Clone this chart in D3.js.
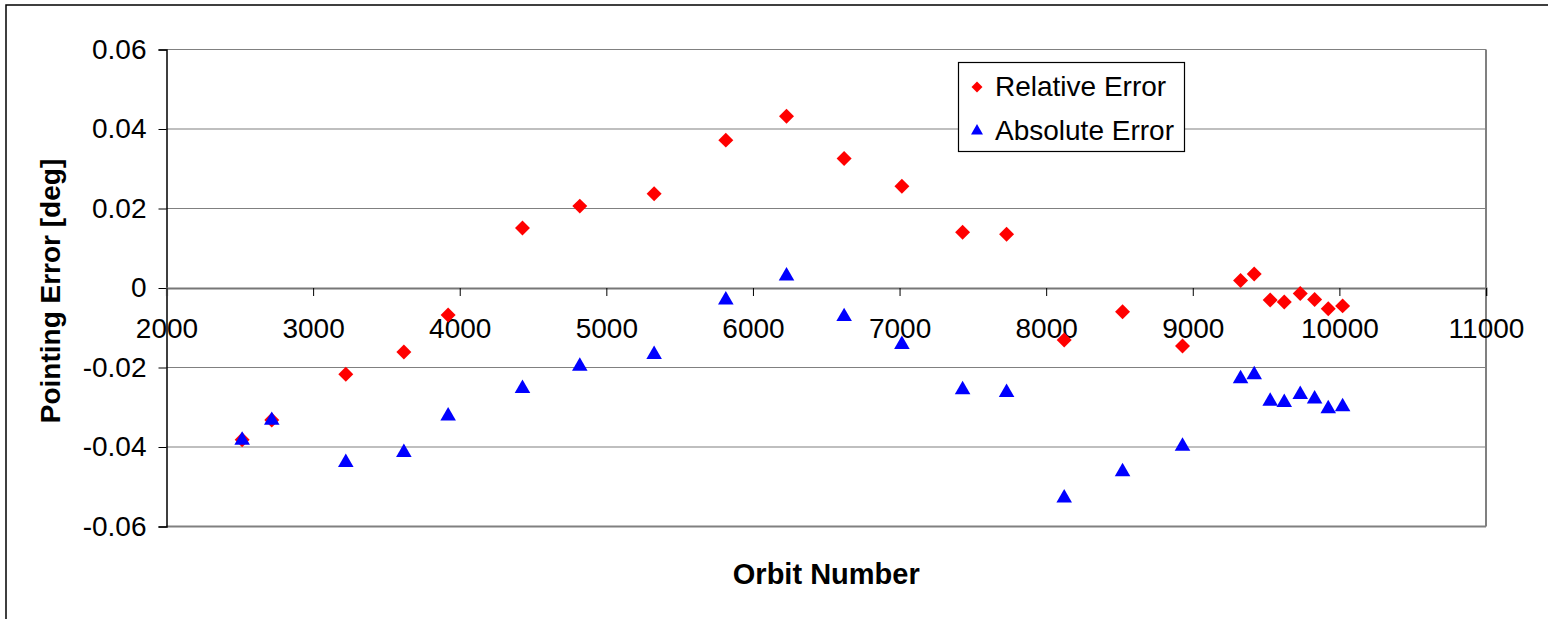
<!DOCTYPE html>
<html>
<head>
<meta charset="utf-8">
<script src="https://cdn.jsdelivr.net/npm/d3@7/dist/d3.min.js"></script>
<style>
  html, body { margin: 0; padding: 0; background: #fff; }
  svg { display: block; font-family: "Liberation Sans", Arial, sans-serif; }
</style>
</head>
<body>
<svg id="chart" width="1548" height="619"></svg>
<script>
const orbits = [2516, 2718, 3223, 3619, 3921, 4428, 4819, 5326, 5815, 6229, 6622, 7016, 7430, 7730, 8123, 8521, 8930, 9326, 9419, 9528, 9624, 9733, 9831, 9924, 10022];
const relativeError = [-0.0382, -0.0332, -0.0217, -0.0161, -0.0068, 0.0151, 0.0206, 0.0237, 0.0372, 0.0432, 0.0326, 0.0256, 0.0140, 0.0135, -0.0131, -0.0060, -0.0146, 0.0019, 0.0035, -0.0030, -0.0035, -0.0014, -0.0029, -0.0052, -0.0045];
const absoluteError = [-0.0383, -0.0333, -0.0439, -0.0414, -0.0322, -0.0253, -0.0197, -0.0167, -0.0030, 0.0030, -0.0072, -0.0142, -0.0256, -0.0263, -0.0528, -0.0462, -0.0398, -0.0228, -0.0218, -0.0285, -0.0288, -0.0268, -0.0279, -0.0304, -0.0299];
const xTicks = [2000, 3000, 4000, 5000, 6000, 7000, 8000, 9000, 10000, 11000];
const yTicks = [-0.06, -0.04, -0.02, 0, 0.02, 0.04, 0.06];
const seriesNames = ["Relative Error", "Absolute Error"];
const xTitle = "Orbit Number";
const yTitle = "Pointing Error [deg]";

const svg = d3.select("#chart");
const L = 166.5, R = 1486, T = 49.5, B = 526.5;

const x = d3.scaleLinear().domain([2000, 11000]).range([L, R]);
const y = d3.scaleLinear().domain([-0.06, 0.06]).range([B, T]);

// outer chart border
svg.append("rect").attr("x", 6).attr("y", 5).attr("width", 1600).attr("height", 700)
  .attr("fill", "none").attr("stroke", "#000").attr("stroke-width", 1.5);

// gridlines
svg.append("g").selectAll("line").data(yTicks.filter(d => d !== 0 && d !== -0.06)).join("line")
  .attr("x1", L).attr("x2", R).attr("y1", d => y(d)).attr("y2", d => y(d))
  .attr("stroke", "#808080").attr("stroke-width", 1.2);

// plot border right & bottom
svg.append("line").attr("x1", R).attr("x2", R).attr("y1", T).attr("y2", B)
  .attr("stroke", "#808080").attr("stroke-width", 2);
svg.append("line").attr("x1", L).attr("x2", R).attr("y1", B).attr("y2", B)
  .attr("stroke", "#808080").attr("stroke-width", 2);

// y axis
const yAxis = d3.axisLeft(y).tickValues(yTicks).tickSize(8).tickPadding(12)
  .tickFormat(d => d === 0 ? "0" : d3.format(".2f")(d).replace("\u2212", "-"));
const gy = svg.append("g").attr("transform", `translate(${L},0)`).call(yAxis);
gy.select(".domain").attr("stroke", "#000").attr("stroke-width", 1.5);
gy.selectAll(".tick line").attr("stroke", "#000").attr("stroke-width", 1);
gy.selectAll(".tick text").attr("font-size", 28).attr("fill", "#000")
  .attr("font-family", "Liberation Sans, Arial, sans-serif");

// x axis at zero
const xAxis = d3.axisBottom(x).tickValues(xTicks).tickSize(8).tickPadding(22)
  .tickFormat(d3.format("d"));
const gx = svg.append("g").attr("transform", `translate(0,${y(0)})`).call(xAxis);
gx.select(".domain").attr("stroke", "#777").attr("stroke-width", 2.2);
gx.selectAll(".tick line").attr("stroke", "#000").attr("stroke-width", 1);
gx.selectAll(".tick text").attr("font-size", 28).attr("fill", "#000")
  .attr("font-family", "Liberation Sans, Arial, sans-serif");

// axis titles
svg.append("text").attr("x", (L + R) / 2).attr("y", 584).attr("text-anchor", "middle")
  .attr("font-size", 29).attr("font-weight", "bold").text(xTitle);
svg.append("text").attr("transform", `translate(60,${(T + B) / 2 + 3}) rotate(-90)`)
  .attr("text-anchor", "middle").attr("font-size", 28).attr("font-weight", "bold").text(yTitle);

const diamond = d3.symbol().type(d3.symbolSquare);
const tri = d3.symbol().type(d3.symbolTriangle);

const data = orbits.map((o, i) => ({ o, r: relativeError[i], a: absoluteError[i] }));

svg.append("g").selectAll("path").data(data).join("path")
  .attr("d", diamond.size(112)())
  .attr("transform", d => `translate(${x(d.o)},${y(d.r)}) rotate(45)`)
  .attr("fill", "#ff0000");

svg.append("g").selectAll("path").data(data).join("path")
  .attr("d", tri.size(105)())
  .attr("transform", d => `translate(${x(d.o)},${y(d.a)})`)
  .attr("fill", "#0000ff");

// legend
const lg = svg.append("g");
lg.append("rect").attr("x", 958.5).attr("y", 62.5).attr("width", 226).attr("height", 89)
  .attr("fill", "#fff").attr("stroke", "#000").attr("stroke-width", 1.2);
lg.append("path").attr("d", diamond.size(60)())
  .attr("transform", "translate(977,87) rotate(45)").attr("fill", "#ff0000");
lg.append("path").attr("d", tri.size(62)())
  .attr("transform", "translate(977,131)").attr("fill", "#0000ff");
lg.append("text").attr("x", 995).attr("y", 96).attr("font-size", 28).text(seriesNames[0]);
lg.append("text").attr("x", 995).attr("y", 140).attr("font-size", 28).text(seriesNames[1]);
</script>
</body>
</html>
